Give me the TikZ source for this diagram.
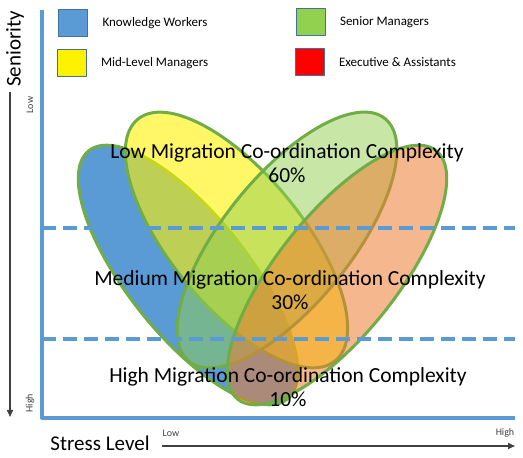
\documentclass[tikz,border=0pt]{standalone}
\usepackage{fontspec}
\setmainfont{Carlito}
\usetikzlibrary{positioning,arrows.meta}
\definecolor{axisblue}{HTML}{5B9BD5}
\definecolor{edgegreen}{HTML}{70AD47}
\definecolor{boxedge}{HTML}{41719C}
\definecolor{kwblue}{HTML}{5B9BD5}
\definecolor{smgreen}{HTML}{92D050}
\definecolor{exorange}{HTML}{ED7D31}
\definecolor{arrowgray}{HTML}{404040}
\begin{document}
\begin{tikzpicture}[x=1pt, y=1pt, line join=round,
    legbox/.style={draw=boxedge, line width=1pt, minimum width=29pt, minimum height=27pt, inner sep=0pt},
    legtext/.style={font=\fontsize{13}{15}\selectfont, right=11pt of #1},
    group/.style={draw=edgegreen, line width=3pt},
    axisline/.style={draw=axisblue, line width=4pt},
    zoneline/.style={draw=axisblue, line width=4pt, dash pattern=on 14pt off 7pt},
    zone/.style={font=\fontsize{21.5}{24}\selectfont, align=center},
    tick/.style={font=\fontsize{10}{11}\selectfont, text=arrowgray},
    axislabel/.style={font=\fontsize{21}{23}\selectfont},
    pointer/.style={draw=arrowgray, line width=1.6pt, -{Triangle[length=7pt,width=6pt]}}]
  \useasboundingbox (0,0) rectangle (523,458);
  % legend
  \node[legbox, fill=kwblue] (kw) at (73,434.5) {};
  \node[legtext=kw] (kwl) {Knowledge Workers};
  \node[legbox, fill=yellow] (mlm) at (71.5,394.5) {};
  \node[legtext=mlm] (mlml) {Mid-Level Managers};
  \node[legbox, fill=smgreen] (sm) at (310.5,436) {};
  \node[legtext=sm] (sml) {Senior Managers};
  \node[legbox, fill=red] (ex) at (309.5,396) {};
  \node[legtext=ex] (exl) {Executive \& Assistants};
  % groups
  \filldraw[group, fill=kwblue, rotate around={-51.4:(188,183)}] (188,183) ellipse [x radius=159, y radius=60];
  \filldraw[group, fill=yellow, fill opacity=0.6, rotate around={-50.75:(236.5,218)}] (236.5,218) ellipse [x radius=156, y radius=66];
  \filldraw[group, fill=smgreen, fill opacity=0.5, rotate around={51.1:(287,218)}] (287,218) ellipse [x radius=156, y radius=64];
  \filldraw[group, fill=exorange, fill opacity=0.55, rotate around={51.4:(337,183)}] (337,183) ellipse [x radius=159, y radius=60];
  % axes and zones
  \draw[zoneline] (42,230) -- (515,230);
  \draw[zoneline] (42,119) -- (515,119);
  \draw[axisline] (42,448) -- (42,40) -- (515,40);
  \node[zone] (lowzone) at (287,294.5) {Low Migration Co-ordination Complexity\\60\%};
  \node[zone] (medzone) at (290,168) {Medium Migration Co-ordination Complexity\\30\%};
  \node[zone] (highzone) at (288,70.5) {High Migration Co-ordination Complexity\\10\%};
  % seniority
  \node[axislabel, rotate=90] (sen) at (15,409) {Seniority};
  \coordinate (sentop) at (10,366);
  \coordinate (senbot) at (10,41);
  \draw[pointer] (sentop) -- (senbot);
  \node[tick, rotate=90] (senlow) at (30,353) {Low};
  \node[tick, rotate=90] (senhigh) at (30,55) {High};
  % stress
  \node[axislabel] (stress) at (100,15) {Stress Level};
  \coordinate (strleft) at (162,12);
  \coordinate (strright) at (515,12);
  \draw[pointer] (strleft) -- (strright);
  \node[tick] (strlow) at (171,25) {Low};
  \node[tick] (strhigh) at (505,25) {High};
\end{tikzpicture}
\end{document}
